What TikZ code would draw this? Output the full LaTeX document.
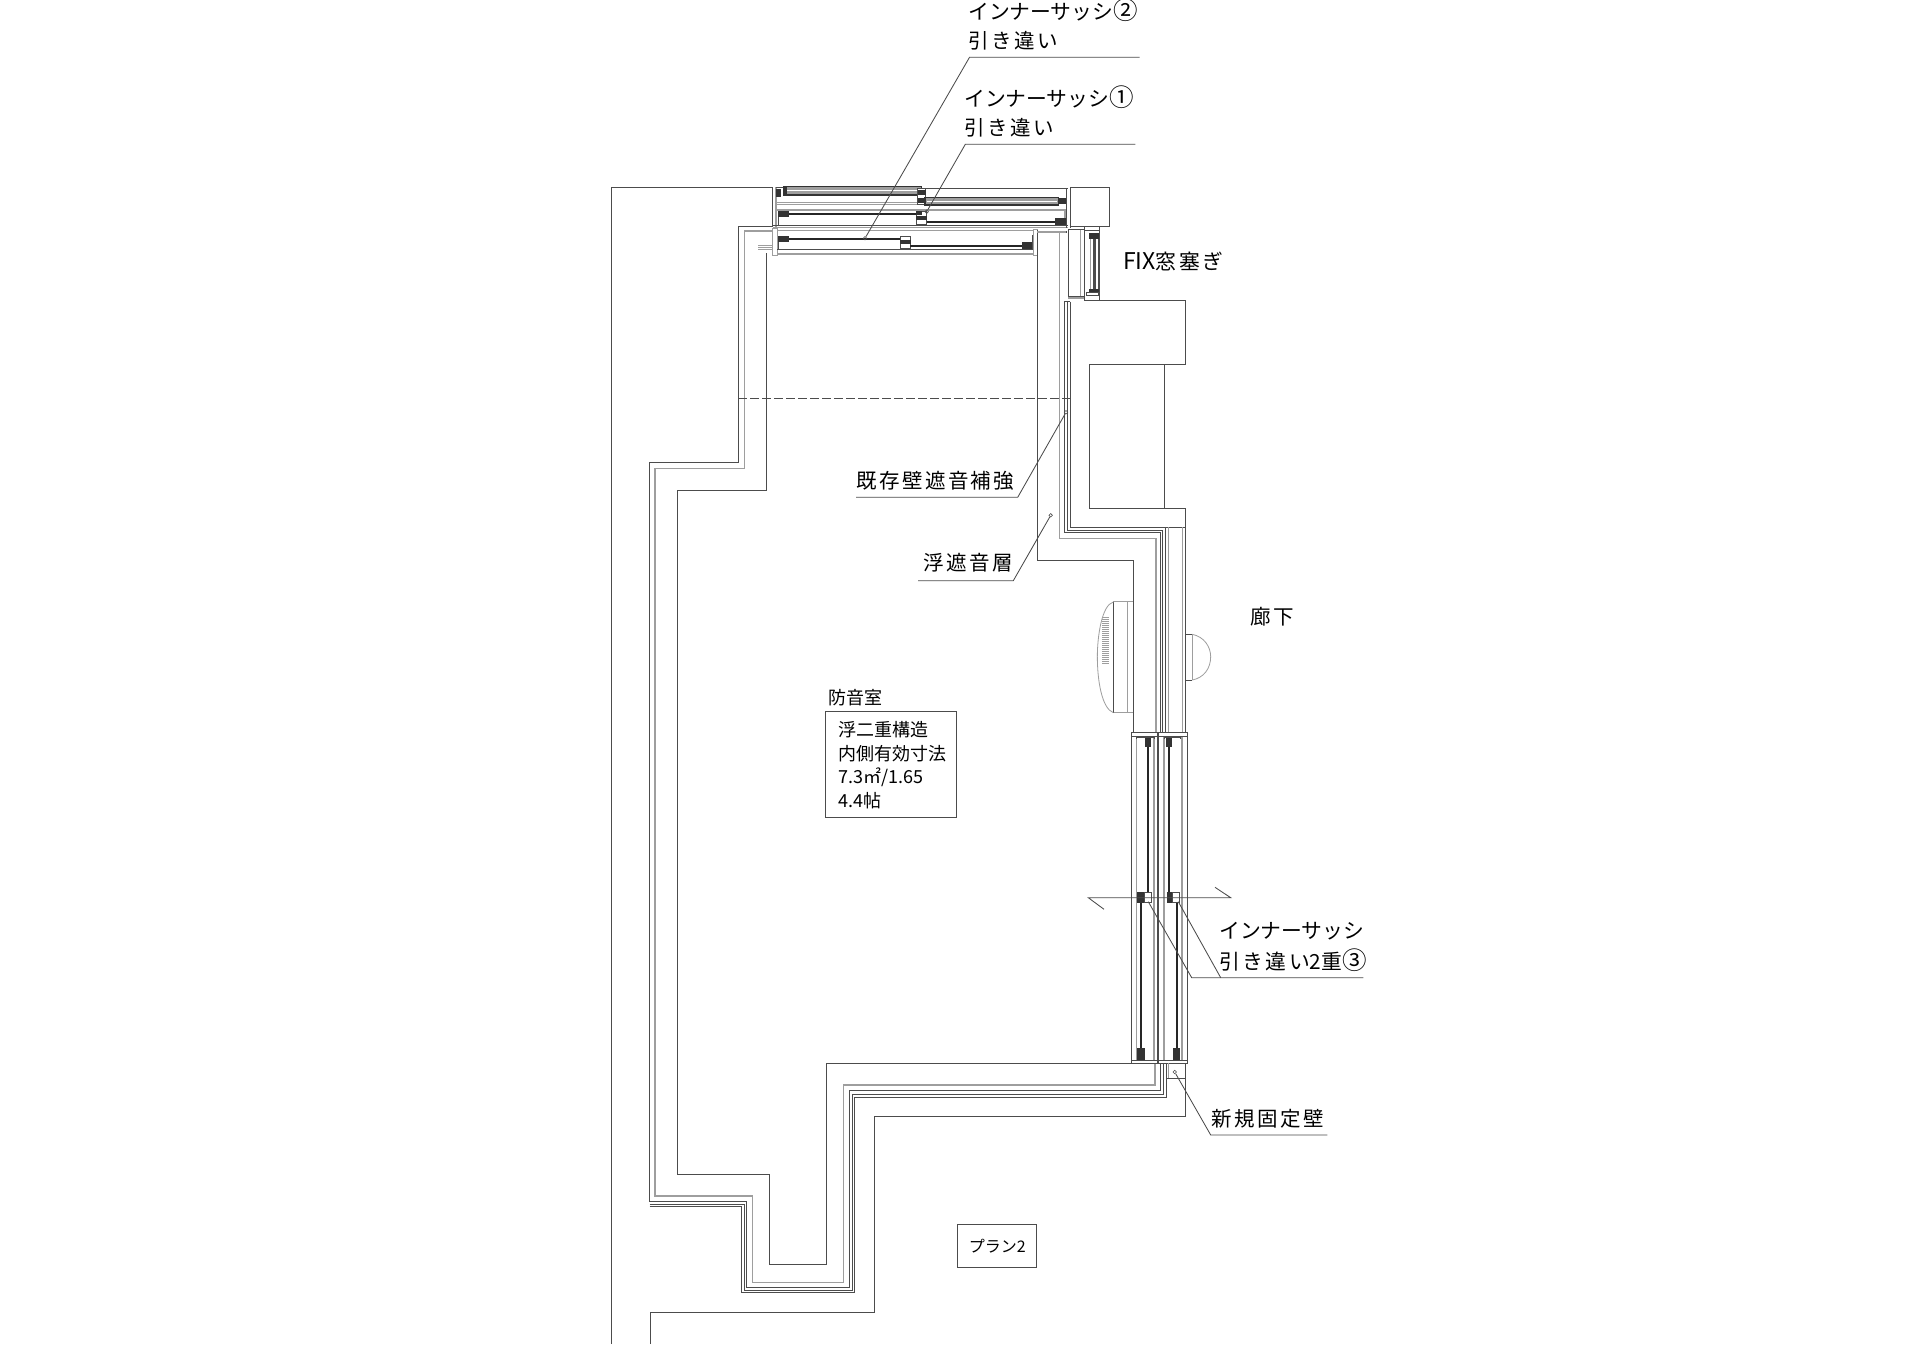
\documentclass[tikz,border=0pt]{standalone}
\usepackage{fontspec}
\setmainfont{Noto Sans CJK JP}
\newfontfamily\jsp[LetterSpace=12]{Noto Sans CJK JP}
\newcommand{\circd}[1]{{\fontsize{24.5}{25}\selectfont #1}}
\definecolor{dkc}{gray}{.3}
\definecolor{ltc}{gray}{.62}
\tikzset{
 dk/.style={draw=dkc,line width=1pt},
 th/.style={draw=dkc,line width=.7pt},
 lt/.style={draw=ltc,line width=1.1pt},
 gl/.style={draw=black!85,line width=1.7pt},
 gln/.style={draw=black!80,line width=1.3pt,fill=ltc},
 blk/.style={fill=black!80,draw=black!80,line width=.4pt},
 lab/.style={anchor=west,inner sep=0pt,font=\fontsize{20.8}{24}\selectfont,text=black},
 labs/.style={anchor=west,inner sep=0pt,font=\jsp\fontsize{20.5}{24}\selectfont,text=black},
 small/.style={anchor=west,inner sep=0pt,font=\fontsize{18}{20}\selectfont,text=black},
 leader/.style={draw=dkc,line width=.85pt},
 dot/.style={circle,draw=dkc,line width=.6pt,inner sep=0pt,minimum size=3.5pt},
 zoomA/.style={x=.33333pt,y=-.33333pt}
}
\begin{document}
\begin{tikzpicture}[x=1pt,y=-1pt]
\useasboundingbox[fill=white] (0,0) rectangle (1920,1358);

% existing structure
\draw[dk] (611,1344) -- (611,187) -- (772.7,187);
\draw[dk] (650,1344) -- (650,1312) -- (874,1312) -- (874,1116.7) -- (1185.5,1116.7) -- (1185.5,1063);
\draw[dk] (1099.3,300.3) -- (1185.3,300.3) -- (1185.3,364.3) -- (1089.3,364.3) -- (1089.3,508) -- (1185.3,508) -- (1185.3,732.7);
\draw[th] (1164.7,364.3) -- (1164.7,508);

% layered wall
\draw[dk] (649.5,1201.7) -- (649.5,462.7) -- (738.7,462.7) -- (738.7,226) -- (772.7,226);
\draw[lt] (772.7,231) -- (744.3,231) -- (744.3,468.3) -- (655,468.3) -- (655,1196) -- (752.3,1196) -- (752.3,1282.3) -- (843.7,1282.3) -- (843.7,1085) -- (1155,1085) -- (1155,1063);
\draw[dk] (649.5,1201.7) -- (746.7,1201.7) -- (746.7,1287.3) -- (849.3,1287.3) -- (849.3,1090.7) -- (1160.5,1090.7) -- (1160.5,1063);
\draw[th] (649.5,1204.4) -- (744,1204.4) -- (744,1290) -- (852,1290) -- (852,1094) -- (1163,1094) -- (1163,1063);
\draw[dk] (649.5,1206.7) -- (741.3,1206.7) -- (741.3,1292.7) -- (854.7,1292.7) -- (854.7,1097.3) -- (1166,1097.3) -- (1166,1063);
\draw[lt] (1059.3,233) -- (1059.3,538.3) -- (1156,538.3) -- (1156,732.7);
\draw[dk] (1064.3,301.7) -- (1064.3,532.7) -- (1160,532.7) -- (1160,732.7);
\draw[th] (1067,301.7) -- (1067,530) -- (1162.7,530) -- (1162.7,732.7);
\draw[dk] (1070,301.7) -- (1070,527.3) -- (1185.3,527.3);
\draw[dk] (1165.5,527.3) -- (1165.5,732.7);
\draw[th] (1064.3,301.7) -- (1070,301.7);
\draw[lt] (1168.3,527.3) -- (1168.3,732.7);
\draw[lt] (1182.5,527.3) -- (1182.5,732.7);

% room outline
\draw[dk] (766,253) -- (766,490) -- (677,490) -- (677,1174) -- (769.7,1174) -- (769.7,1264.3) -- (826.3,1264.3) -- (826.3,1063) -- (1131,1063);
\draw[dk] (1037.3,253) -- (1037.3,560) -- (1133,560) -- (1133,732.7);

% dashed line
\draw[draw=dkc,line width=.8pt,dash pattern=on 9pt off 3pt] (738,398.7) -- (1070,398.7);

% top sashes, in crop coordinates
\begin{scope}[shift={(740,170)},zoomA]
 % first assembly
 \draw[dk] (98,52) -- (98,170);
 \draw[lt] (108,52) -- (108,172);
 \draw[dk] (545,55) -- (985,55);
 \draw[th] (108,52) -- (130,52);
 \draw[gln] (130,50) rectangle (545,75);
 \draw[draw=white,line width=.8pt] (140,62) -- (535,62);
 \draw[blk] (108,58) rectangle (122,78);
 \draw[blk] (130,50) rectangle (140,72);
 \draw[dk,fill=white] (532,55) rectangle (556,103);
 \draw[blk] (535,60) rectangle (555,72);
 \draw[blk] (535,84) rectangle (555,98);
 \draw[gln] (555,82) rectangle (955,105);
 \draw[draw=white,line width=.8pt] (560,94) -- (950,94);
 \draw[blk] (958,85) rectangle (978,100);
 \draw[lt] (108,97) -- (532,97);
 \draw[lt] (108,103) -- (532,103);
 \draw[lt] (108,120) -- (978,120);
 \draw[lt] (975,120) -- (975,165);
 \draw[gl] (140,132) -- (530,132);
 \draw[blk] (115,125) rectangle (145,140);
 \draw[th] (115,140) -- (115,165);
 \draw[dk,fill=white] (530,125) rectangle (560,162);
 \draw[blk] (530,140) rectangle (560,147);
 \draw[blk] (530,125) rectangle (545,133);
 \draw[gl] (560,155) -- (945,155);
 \draw[blk] (945,146) rectangle (975,162);
 \draw[dk] (98,165) -- (985,165);
 \draw[lt] (98,172) -- (985,172);
 \draw[dk] (980,55) -- (980,175);
 \draw[dk] (990,55) -- (990,175);
 \draw[dk] (990,52) rectangle (1107,168);
 % second assembly
 \draw[lt] (98,176) rectangle (112,257);
 \draw[gl] (140,207) -- (480,207);
 \draw[blk] (115,198) rectangle (145,215);
 \draw[th] (115,215) -- (115,238);
 \draw[dk,fill=white] (480,198) rectangle (510,236);
 \draw[blk] (480,212) rectangle (510,220);
 \draw[gl] (510,228) -- (850,228);
 \draw[blk] (848,218) rectangle (878,236);
 \draw[th] (878,195) -- (878,238);
 \draw[dk] (112,238) -- (880,238);
 \draw[lt] (112,252) -- (880,252);
 \draw[lt] (112,182) -- (880,182);
 \draw[lt] (880,178) rectangle (892,257);
 \draw[dk] (892,180) -- (892,257);
 \draw[draw=ltc,line width=1.6pt] (892,186) -- (978,186);
 \draw[th] (978,183) -- (978,190);
 \foreach \yy in {226,232,238} \draw[draw=ltc,line width=.7pt] (55,\yy) -- (98,\yy);
 % fix window
 \draw[dk] (985,178) -- (985,378);
 \draw[lt] (1022,178) -- (1022,378);
 \draw[dk] (1033,168) -- (1033,392);
 \draw[lt] (985,384) -- (1033,384);
 \draw[th] (985,378) -- (1033,378);
 \draw[dk] (985,178) -- (1033,178);
 \draw[dk] (1078,168) -- (1078,392);
 \draw[dk] (1033,180) -- (1078,180);
 \draw[dk] (1033,392) -- (1078,392);
 \draw[lt] (1052,195) -- (1052,360);
 \draw[draw=dkc,line width=2.6pt] (1064,195) -- (1064,360);
 \draw[th] (1074,195) -- (1074,360);
 \draw[blk] (1048,190) rectangle (1076,205);
 \draw[blk] (1048,357) rectangle (1076,366);
 \draw[th] (1040,366) rectangle (1076,376);
\end{scope}

% corridor window, crop coordinates of the lower view
\begin{scope}[shift={(1080,580)},zoomA]
 % header bars
 \draw[dk] (153,458) rectangle (231,470);
 \draw[dk] (235,458) rectangle (322,470);
 % frames to the foot
 \foreach \xx in {153,231,235,322} \draw[th] (\xx,470) -- (\xx,1440);
 \foreach \xx in {170,222,252,306} \draw[lt] (\xx,470) -- (\xx,1440);
 \draw[dk] (153,1440) rectangle (231,1450);
 \draw[dk] (235,1440) rectangle (322,1450);
 % top blocks
 \draw[th] (170,478) -- (170,472) -- (222,472) -- (222,478);
 \draw[blk] (197,475) rectangle (212,500);
 \draw[th] (252,478) -- (252,472) -- (300,472) -- (300,478);
 \draw[blk] (260,475) rectangle (275,500);
 % upper glass
 \draw[gl] (203,500) -- (203,938);
 \draw[gl] (268,500) -- (268,938);
 % meeting blocks
 \draw[blk] (173,938) rectangle (193,968);
 \draw[dk,fill=white] (193,938) rectangle (213,968);
 \draw[blk] (262,938) rectangle (278,968);
 \draw[dk,fill=white] (278,938) rectangle (298,968);
 % lower glass
 \draw[gl] (182,968) -- (182,1405);
 \draw[gl] (290,968) -- (290,1405);
 % bottom blocks
 \draw[blk] (173,1405) rectangle (193,1437);
 \draw[blk] (280,1405) rectangle (297,1437);
\end{scope}

% new fixed wall
\draw[dk] (1166,1063) -- (1166,1078) -- (1185.5,1078);
\draw[lt] (1168.7,1063) -- (1168.7,1078);

% section line
\coordinate (secA) at (1088.3,897.7);
\coordinate (secB) at (1230.7,897.7);
\draw[leader] (1104,909.3) -- (secA) -- (secB) -- (1215,887.3);

% speaker and dome
\begin{scope}[shift={(1080,580)},zoomA]
 \draw[draw=ltc,line width=.8pt] (158,65) -- (100,65);
 \draw[draw=ltc,line width=.8pt] (158,398) -- (100,398);
 \draw[draw=dkc,line width=.55pt] (100,65) -- (100,398);
 \draw[draw=ltc,line width=.8pt] (142,65) -- (142,398);
 \draw[draw=ltc,line width=.8pt] (100,66) .. controls (65,75) and (52,170) .. (52,230) .. controls (52,300) and (65,385) .. (100,398);
 \foreach \yy in {112,118,...,250} \draw[draw=ltc,line width=.5pt] (66,\yy) -- (86,\yy);
 \draw[th] (317,163) -- (337,163);
 \draw[th] (317,300) -- (337,300);
 \draw[draw=ltc,line width=.6pt] (337,163) -- (337,300);
 \draw[draw=ltc,line width=.8pt] (337,163) .. controls (372,170) and (392,200) .. (392,230) .. controls (392,265) and (372,293) .. (337,300);
\end{scope}

% leaders
\node[dot] (d2) at (865,238.3) {};
\node[dot] (d1) at (926.7,211.7) {};
\node[dot] (d5) at (1066,412.3) {};
\node[dot] (d6) at (1050.7,515.3) {};
\node[dot] (d7) at (1174.7,1072) {};
\coordinate (d3a) at (1148.3,901.7);
\coordinate (d3b) at (1178.3,901.7);

\coordinate (e2) at (969.5,57.3);  \coordinate (f2) at (1139.6,57.3);
\coordinate (e1) at (965.3,144.3); \coordinate (f1) at (1135.4,144.3);
\coordinate (e5) at (1017.7,497.3);\coordinate (f5) at (856,497.3);
\coordinate (e6) at (1013.3,580.7);\coordinate (f6) at (918,580.7);
\coordinate (e7) at (1210.7,1135); \coordinate (f7) at (1327.3,1135);
\coordinate (e3a) at (1191.7,977.7);\coordinate (e3b) at (1220.7,977.7);\coordinate (f3) at (1363.3,977.7);

\draw[leader] (d2) -- (e2) -- (f2);
\draw[leader] (d1) -- (e1) -- (f1);
\draw[leader] (d5) -- (e5) -- (f5);
\draw[leader] (d6) -- (e6) -- (f6);
\draw[leader] (d7) -- (e7) -- (f7);
\draw[leader] (d3a) -- (e3a) -- (f3);
\draw[leader] (d3b) -- (e3b);

% labels
\node[lab] (t2a) at (968,10.5) {インナーサッシ\circd{②}};
\node[labs] (t2b) at (968,40.7) {引き違い};
\node[lab] (t1a) at (964,97) {インナーサッシ\circd{①}};
\node[labs] (t1b) at (964,127.3) {引き違い};
\node[lab] (tfix) at (1123,261.7) {{\fontsize{23}{24}\selectfont FIX}{\jsp 窓塞ぎ}};
\node[labs] (t5) at (856,481) {既存壁遮音補強};
\node[labs] (t6) at (923,563) {浮遮音層};
\node[labs] (tcor) at (1250.7,616.7) {廊下};
\node[lab] (t3a) at (1219,930.7) {インナーサッシ};
\node[lab] (t3b) at (1219,960.5) {{\jsp 引き違い}2重\circd{③}};
\node[labs] (t7) at (1211,1119) {新規固定壁};

\node[small] (troom) at (828.3,697.3) {防音室};
\node[draw=dkc,line width=.8pt,minimum width=131pt,minimum height=105.6pt,inner sep=0pt] (bx) at (891.2,764.5) {};
\node[small] (l1) at (855,729.3) {\makebox[0pt][l]{\hspace{-17pt}浮二重構造}};
\node[small] (l2) at (838.3,754) {内側有効寸法};
\node[small] (l3) at (838.3,777.3) {7.3㎡/1.65};
\node[small] (l4) at (838.3,800.7) {4.4帖};

\node[draw=dkc,line width=.9pt,minimum width=79pt,minimum height=43pt,inner sep=0pt] (pb) at (997.2,1245.8) {};
\node[anchor=center,inner sep=0pt,font=\fontsize{16}{20}\selectfont,text=black] (pt) at (pb.center) {プラン2};
\end{tikzpicture}
\end{document}
